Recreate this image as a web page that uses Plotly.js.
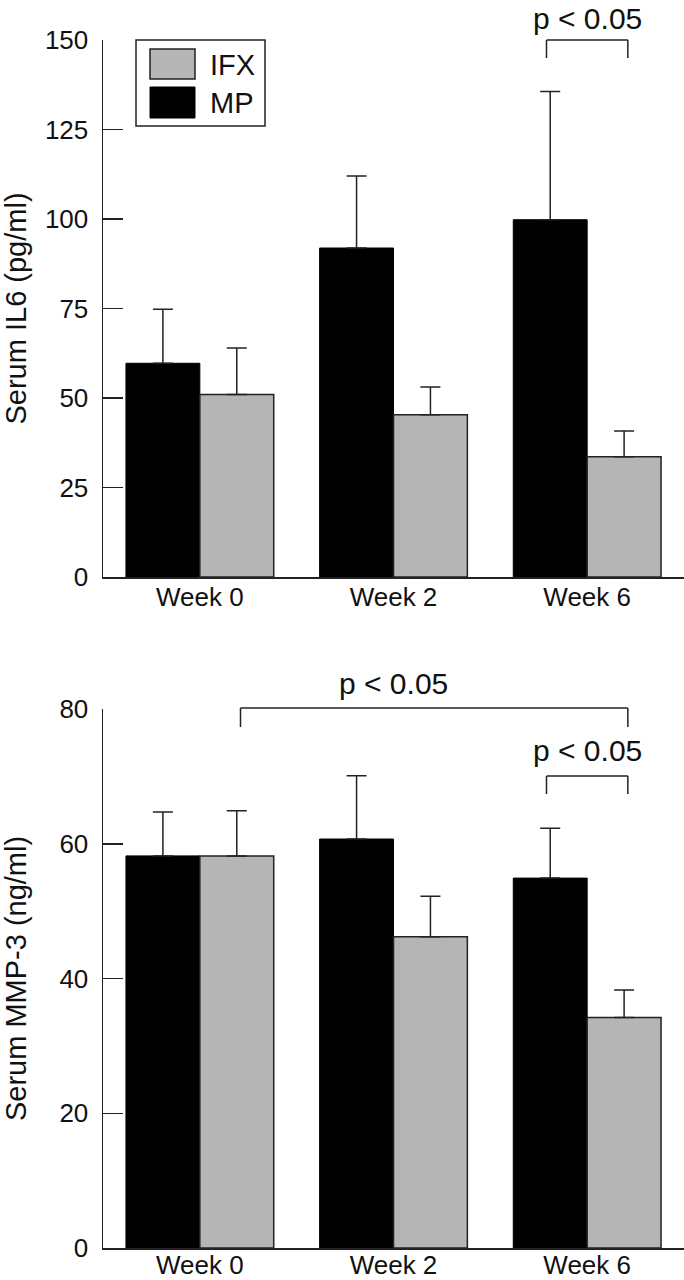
<!DOCTYPE html>
<html>
<head>
<meta charset="utf-8">
<script src="https://cdn.plot.ly/plotly-3.0.1.min.js"></script>
<style>
  html, body { margin: 0; padding: 0; background: #fff; }
  #chart { width: 684px; height: 1280px; }
</style>
</head>
<body>
<div id="chart"></div>
<script>
// ---- data ----
const weeks = ["Week 0", "Week 2", "Week 6"];
const seriesNames = ["IFX", "MP"];

// Serum IL6 (pg/ml)
const il6_MP = [59.7, 91.9, 99.8];
const il6_MP_err = [15.1, 20.1, 35.8];
const il6_IFX = [51.0, 45.3, 33.6];
const il6_IFX_err = [13.0, 7.8, 7.2];

// Serum MMP-3 (ng/ml)
const mmp3_MP = [58.2, 60.7, 54.9];
const mmp3_MP_err = [6.5, 9.4, 7.4];
const mmp3_IFX = [58.2, 46.2, 34.2];
const mmp3_IFX_err = [6.7, 6.0, 4.1];

const pLabel = "p < 0.05";

// ---- styles ----
const FONT = "Liberation Sans, Arial, sans-serif";
const GRAY = "#b5b5b5";
const INK = "#222";

function errBar(arr) {
  return { type: "data", symmetric: false, array: arr, arrayminus: arr.map(() => 0),
           color: INK, thickness: 1.5, width: 10 };
}

const traces = [
  { type: "bar", name: seriesNames[1], x: weeks, y: il6_MP, xaxis: "x", yaxis: "y",
    marker: { color: "#000", line: { color: "#000", width: 1 } }, error_y: errBar(il6_MP_err) },
  { type: "bar", name: seriesNames[0], x: weeks, y: il6_IFX, xaxis: "x", yaxis: "y",
    marker: { color: GRAY, line: { color: INK, width: 1.5 } }, error_y: errBar(il6_IFX_err) },
  { type: "bar", name: seriesNames[1], x: weeks, y: mmp3_MP, xaxis: "x2", yaxis: "y2",
    marker: { color: "#000", line: { color: "#000", width: 1 } }, error_y: errBar(mmp3_MP_err) },
  { type: "bar", name: seriesNames[0], x: weeks, y: mmp3_IFX, xaxis: "x2", yaxis: "y2",
    marker: { color: GRAY, line: { color: INK, width: 1.5 } }, error_y: errBar(mmp3_IFX_err) }
];

// pixel -> paper helpers (plot area: x 103..684, y 40..1248)
const L = 103, W = 581, T = 40, B = 32, H = 1280 - T - B;
const px = v => (v - L) / W;
const py = v => (1280 - B - v) / H;

const axX = {
  showline: true, linecolor: INK, linewidth: 1.5, ticks: "", showgrid: false, zeroline: false,
  range: [-0.5, 2.5], ticklabelstandoff: -4,
  tickfont: { family: FONT, size: 26, color: "#111" }, fixedrange: true
};
const axY = {
  showline: true, linecolor: INK, linewidth: 1.5, ticks: "inside", ticklen: 20, tickwidth: 1.5,
  tickcolor: INK, showgrid: false, zeroline: false, ticklabelstandoff: 8,
  tickfont: { family: FONT, size: 26, color: "#111" }, fixedrange: true
};

function bracket(xref, x0, x1, yTop, yBot) {
  const s = { color: INK, width: 1.5 };
  return [
    { type: "line", xref, yref: "paper", x0, x1, y0: yTop, y1: yTop, line: s },
    { type: "line", xref, yref: "paper", x0, x1: x0, y0: yTop, y1: yBot, line: s },
    { type: "line", xref, yref: "paper", x0: x1, x1, y0: yTop, y1: yBot, line: s }
  ];
}

const shapes = [
  ...bracket("x", 1.79, 2.21, py(40), py(58)),
  ...bracket("x2", 0.21, 2.21, py(708), py(727)),
  ...bracket("x2", 1.79, 2.21, py(776), py(794)),
  // legend box and swatches
  { type: "rect", xref: "paper", yref: "paper", x0: px(136), x1: px(265), y0: py(126), y1: py(40),
    line: { color: INK, width: 1.5 }, fillcolor: "#fff" },
  { type: "rect", xref: "paper", yref: "paper", x0: px(150), x1: px(195), y0: py(79), y1: py(49),
    line: { color: INK, width: 1.5 }, fillcolor: GRAY },
  { type: "rect", xref: "paper", yref: "paper", x0: px(150), x1: px(195), y0: py(118), y1: py(87),
    line: { color: "#000", width: 1 }, fillcolor: "#000" }
];

const pFont = { family: FONT, size: 30, color: "#111" };
const legFont = { family: FONT, size: 29, color: "#111" };
const annotations = [
  { xref: "x", yref: "paper", x: 2, y: py(18), xanchor: "center", yanchor: "middle",
    text: pLabel, showarrow: false, font: pFont },
  { xref: "x2", yref: "paper", x: 1.0, y: py(683), xanchor: "center", yanchor: "middle",
    text: pLabel, showarrow: false, font: pFont },
  { xref: "x2", yref: "paper", x: 2, y: py(751), xanchor: "center", yanchor: "middle",
    text: pLabel, showarrow: false, font: pFont },
  { xref: "paper", yref: "paper", x: px(208), y: py(65), xanchor: "left", yanchor: "middle",
    text: seriesNames[0], showarrow: false, font: legFont },
  { xref: "paper", yref: "paper", x: px(208), y: py(103), xanchor: "left", yanchor: "middle",
    text: seriesNames[1], showarrow: false, font: legFont }
];

const titleFont = { family: FONT, size: 29, color: "#111" };
const layout = {
  width: 684, height: 1280,
  margin: { l: L, r: 0, t: T, b: B, autoexpand: false },
  paper_bgcolor: "#fff", plot_bgcolor: "#fff",
  showlegend: false,
  barmode: "group", bargap: 0.237, bargroupgap: 0,
  font: { family: FONT, color: "#111" },
  xaxis: Object.assign({}, axX, { domain: [0, 1], anchor: "y" }),
  yaxis: Object.assign({}, axY, { domain: [py(577), 1], anchor: "x", range: [0, 150], dtick: 25,
    title: { text: "Serum IL6 (pg/ml)", font: titleFont, standoff: 12 } }),
  xaxis2: Object.assign({}, axX, { domain: [0, 1], anchor: "y2", ticklabelstandoff: -7 }),
  yaxis2: Object.assign({}, axY, { domain: [0, py(709)], anchor: "x2", range: [0, 80], dtick: 20,
    title: { text: "Serum MMP-3 (ng/ml)", font: titleFont, standoff: 26 } }),
  shapes, annotations
};

Plotly.newPlot("chart", traces, layout, { staticPlot: true, displayModeBar: false });
</script>
</body>
</html>
